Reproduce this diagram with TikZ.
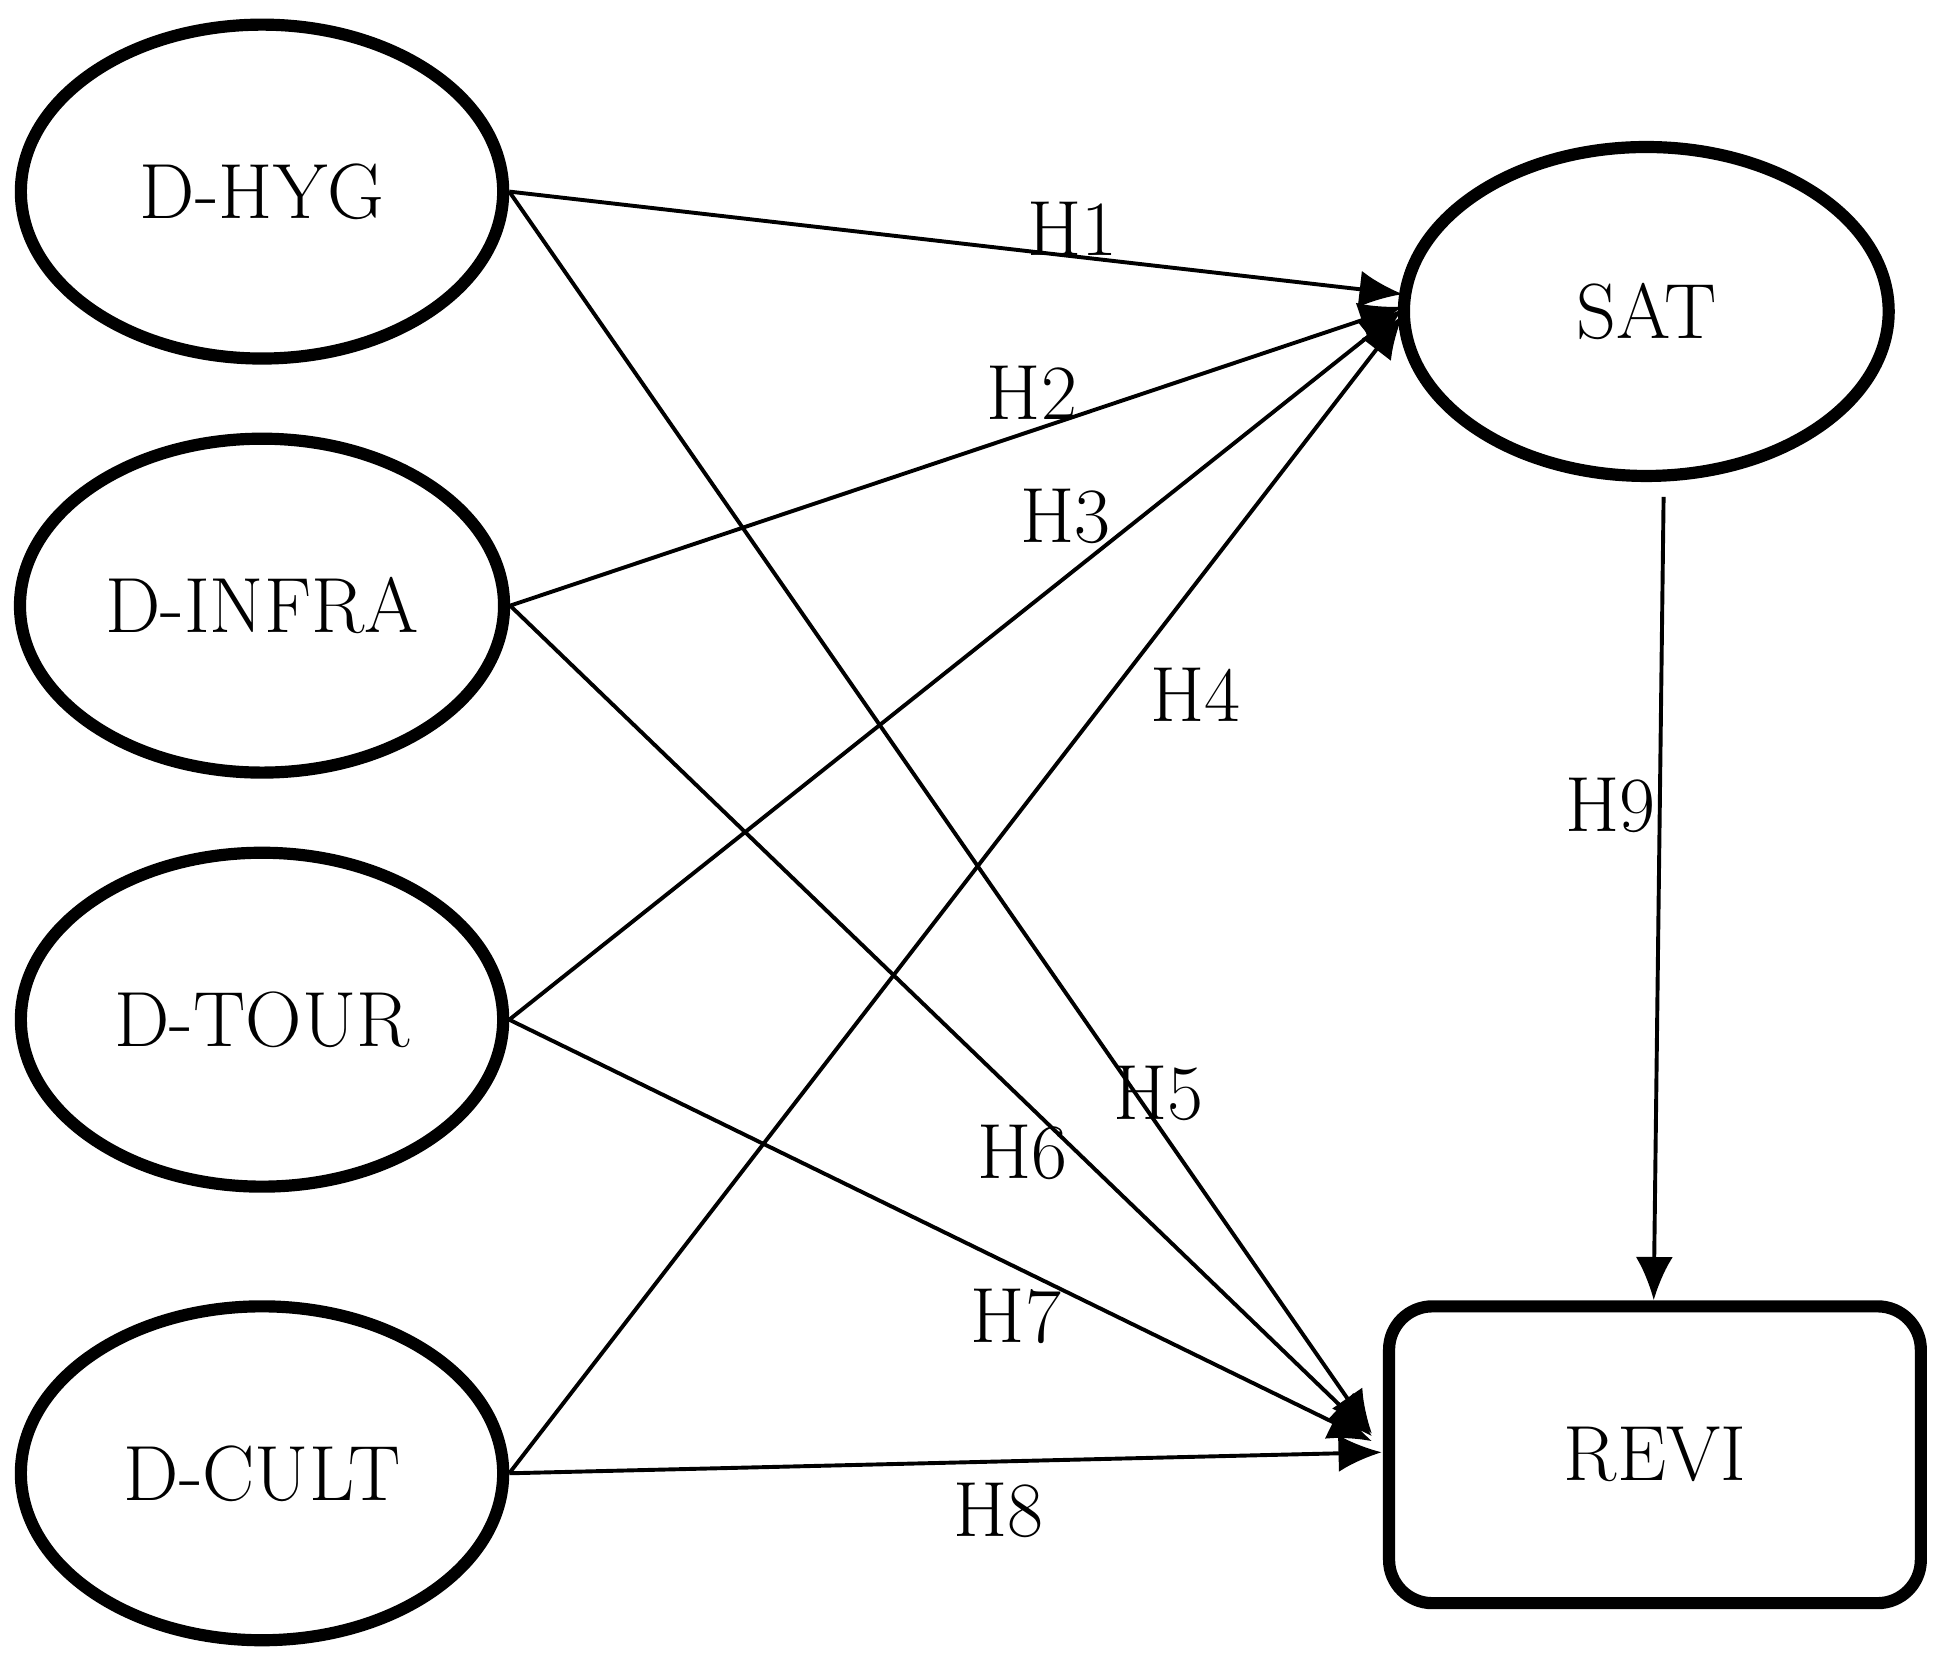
\documentclass[tikz,border=0pt]{standalone}
\usetikzlibrary{shapes.geometric,arrows.meta}
\begin{document}
\begin{tikzpicture}[x=0.01cm,y=-0.01cm,
  lat/.style={ellipse,draw,line width=2.8pt,minimum width=3.9cm,minimum height=2.7cm,font=\fontsize{18}{20}\selectfont},
  box/.style={rectangle,rounded corners=0.35cm,draw,line width=2.8pt,minimum width=4.3cm,minimum height=2.4cm,font=\fontsize{18}{20}\selectfont},
  edge/.style={line width=0.9pt,-{Latex[length=0.35cm,width=0.3cm]}},
  lab/.style={font=\fontsize{18}{20}\selectfont}]
\useasboundingbox (0,0) rectangle (1568,1347);
\node[lat] (hyg) at (212,155) {D-HYG};
\node[lat] (infra) at (212,490) {D-INFRA};
\node[lat] (tour) at (212,825) {D-TOUR};
\node[lat] (cult) at (212,1192) {D-CULT};
\node[lat,minimum width=3.92cm,minimum height=2.66cm] (sat) at (1332,252) {SAT};
\node[box] (revi) at (1339,1177) {REVI};
\coordinate (s1) at (1135,238);
\coordinate (s2) at (1135,248);
\coordinate (s3) at (1135,250);
\coordinate (s4) at (1135,255);
\coordinate (r5) at (1110,1160);
\coordinate (r6) at (1110,1162);
\coordinate (r7) at (1110,1166);
\coordinate (r8) at (1118,1175);
\coordinate (st) at (1346,402);
\draw[edge] (hyg.east) -- (s1);
\draw[edge] (infra.east) -- (s2);
\draw[edge] (tour.east) -- (s3);
\draw[edge] (cult.east) -- (s4);
\draw[edge] (hyg.east) -- (r5);
\draw[edge] (infra.east) -- (r6);
\draw[edge] (tour.east) -- (r7);
\draw[edge] (cult.east) -- (r8);
\draw[edge] (st) -- (revi.north -| 1338,0);
\node[lab] (l1) at (868,185) {H1};
\node[lab] (l2) at (835,318) {H2};
\node[lab] (l3) at (862,418) {H3};
\node[lab] (l4) at (967,562) {H4};
\node[lab] (l5) at (937,885) {H5};
\node[lab] (l6) at (827,932) {H6};
\node[lab] (l7) at (822,1065) {H7};
\node[lab] (l8) at (808,1222) {H8};
\node[lab] (l9) at (1303,652) {H9};
\end{tikzpicture}
\end{document}
